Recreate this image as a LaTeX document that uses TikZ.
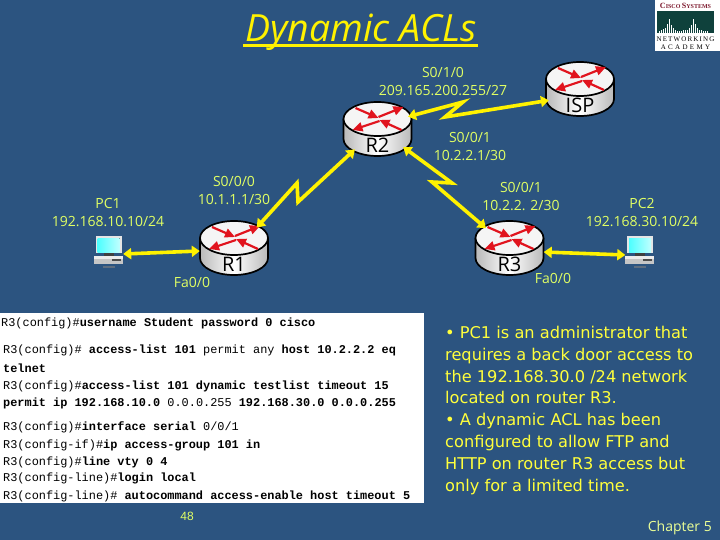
\documentclass[tikz,border=0pt]{standalone}
\usepackage{fontspec}
\setmainfont{Open Sans}
\newfontfamily\cmdfont{Liberation Mono}
\newfontfamily\numfont{Liberation Sans}
\newfontfamily\logofont{Liberation Serif}
\newfontfamily\notefont{DejaVu Sans}
\usetikzlibrary{arrows.meta, positioning, calc, shapes.geometric}

\definecolor{slidebg}{RGB}{44,84,128}
\definecolor{labelcol}{RGB}{225,255,100}
\definecolor{bulletcol}{RGB}{255,255,60}
\definecolor{chaptercol}{RGB}{235,255,150}
\definecolor{routerred}{RGB}{225,20,30}
\definecolor{logored}{RGB}{125,25,45}
\definecolor{logogreen}{RGB}{15,65,60}

% router: name, x, y (centre of top face), label
\newcommand{\router}[4]{
    \fill[left color=gray!55, right color=gray!55, middle color=white] (#2-34,#3) -- (#2-34,#3+20) arc[start angle=180, end angle=360, x radius=34, y radius=-17] -- (#2+34,#3) -- cycle;
    \draw[routerline] (#2-34,#3) -- (#2-34,#3+20) arc[start angle=180, end angle=360, x radius=34, y radius=-17] -- (#2+34,#3);
    \draw[routerline, fill=gray!8] (#2,#3) ellipse[x radius=34, y radius=17];
    \draw[densely dotted, thin] (#2-34,#3) arc[start angle=180, end angle=360, x radius=34, y radius=-17];
    \draw[routerarrow] (#2-22,#3-11) -- (#2+1,#3-1);
    \draw[routerarrow] (#2+1,#3-2) -- (#2+26,#3-12);
    \draw[routerarrow] (#2+2,#3+2) -- (#2-25,#3+11);
    \draw[routerarrow] (#2+24,#3+11) -- (#2+2,#3+1);
    \node[routerbody] (#1) at (#2,#3+10) {};
    \node[routertext] (#1label) at (#2,#3+26) {#4};
}

% pc: name, x, y (top of screen)
\newcommand{\pcicon}[3]{
    \fill[gray!20] (#2-13,#3) rectangle (#2+13,#3+17);
    \fill[left color=cyan!70, right color=cyan!25] (#2-11,#3+2) rectangle (#2+11,#3+16);
    \fill[black!75] (#2-5,#3+17) rectangle (#2+5,#3+20);
    \fill[gray!45] (#2-15,#3+20) rectangle (#2+14,#3+28);
    \fill[gray!15] (#2-15,#3+20) rectangle (#2+14,#3+23);
    \fill[black!70] (#2+3,#3+23) rectangle (#2+12,#3+25);
    \fill[gray!60!slidebg] (#2-6,#3+30) rectangle (#2+6,#3+32);
    \node[pcbody] (#1) at (#2,#3+15) {};
}

\begin{document}
\begin{tikzpicture}[
    x=1pt, y=-1pt,
    routerline/.style={draw=black, line width=1.7pt},
    routerarrow/.style={-{Triangle[length=10pt, width=9pt]}, routerred, line width=2.2pt},
    routerbody/.style={ellipse, minimum width=68pt, minimum height=54pt, inner sep=0pt},
    routertext/.style={font=\fontsize{20}{20}\selectfont, text=black, inner sep=0pt},
    pcbody/.style={minimum width=29pt, minimum height=32pt, inner sep=0pt},
    addrlabel/.style={font=\fontsize{14}{18}\selectfont, text=labelcol, align=center, inner sep=0pt},
    ethlink/.style={{Triangle[length=8pt, width=11pt]}-{Triangle[length=8pt, width=11pt]}, yellow, line width=3.6pt},
    seriallink/.style={{Triangle[length=8pt, width=11pt]}-{Triangle[length=8pt, width=11pt]}, yellow, line width=3.6pt, line join=miter},
    cmdline/.style={font=\cmdfont\fontsize{11.9}{12}\selectfont, text=black, anchor=west, inner sep=0pt},
    logotext/.style={font=\logofont\fontsize{7}{7}\selectfont, inner sep=0pt}
]
\useasboundingbox (0,0) rectangle (720,540);
\fill[slidebg] (0,0) rectangle (720,540);

% --- Title ---
\node[font=\itshape\fontsize{37.5}{37.5}\selectfont, text=yellow, inner sep=0pt] (title) at (361,32) {Dynamic ACLs};
\draw[yellow, line width=2.5pt] (243,45.5) -- (478,45.5);

% --- Logo ---
\fill[white] (655,0) rectangle (720,51);
\fill[logogreen] (657,11) rectangle (714,33);
\node[logotext, text=logored, font=\logofont\bfseries\fontsize{6}{6}\selectfont] (logotop) at (685.5,6) {{\fontsize{8}{8}\selectfont C}ISCO {\fontsize{8}{8}\selectfont S}YSTEMS};
\foreach \x/\h in {659/2,661/3,663/4,665/5,667/9,669/14,671/8,673/5,675/3,677/2,679/2,681/2,683/3,685/3,687/3,689/5,691/8,693/14,695/9,697/5,699/3,701/3,703/2,705/2,707/2} {
    \draw[white, line width=0.6pt] (\x,33) -- (\x,33-\h);
}
\node[logotext] (logomid) at (685.5,39.5) {N\,E\,T\,W\,O\,R\,K\,I\,N\,G};
\node[logotext] (logobot) at (685.5,47) {A\,\,C\,\,A\,\,D\,\,E\,\,M\,\,Y};

% --- Devices ---
\router{R1}{234}{238}{R1}
\router{R2}{377.5}{119}{R2}
\router{ISP}{580}{79}{ISP}
\router{R3}{509.5}{238}{R3}
\pcicon{PC1}{108.5}{236}
\pcicon{PC2}{640}{236}

% --- Links ---
\draw[ethlink] ([yshift=-3pt]PC1.east) -- ([yshift=-3pt]R1.west);
\draw[ethlink] ([yshift=-4pt]R3.east) -- ([yshift=-4pt]PC2.west);
\draw[seriallink] (R1.42) -- (297,183) -- (298,202) -- (R2.222);
\draw[seriallink] (R2.22) -- (463,102) -- (445,117) -- (ISP.200);
\draw[seriallink] (R2.325) -- (452,183) -- (432,182) -- (R3.140);

% --- Addresses ---
\node[addrlabel] (addr1) at (108,213) {PC1\\192.168.10.10/24};
\node[addrlabel] (addr2) at (234,191) {S0/0/0\\10.1.1.1/30};
\node[addrlabel] (addr3) at (192,282) {Fa0/0};
\node[addrlabel] (addr4) at (443,82) {S0/1/0\\209.165.200.255/27};
\node[addrlabel] (addr5) at (470,147) {S0/0/1\\10.2.2.1/30};
\node[addrlabel] (addr6) at (521,197) {S0/0/1\\10.2.2. 2/30};
\node[addrlabel] (addr7) at (642,213) {PC2\\192.168.30.10/24};
\node[addrlabel] (addr8) at (553,278) {Fa0/0};

% --- Commands ---
\fill[white] (0,313) rectangle (424,503);
\node[cmdline] (cmd1) at (1,323) {R3(config)\#\textbf{username Student password 0 cisco}};
\node[cmdline] (cmd2) at (3,350) {R3(config)\# \textbf{access-list 101} permit any \textbf{host 10.2.2.2 eq}};
\node[cmdline] (cmd3) at (3,368) {\textbf{telnet}};
\node[cmdline] (cmd4) at (3,386) {R3(config)\#\textbf{access-list 101 dynamic testlist timeout 15}};
\node[cmdline] (cmd5) at (3,403) {\textbf{permit ip 192.168.10.0} 0.0.0.255 \textbf{192.168.30.0 0.0.0.255}};
\node[cmdline] (cmd6) at (3,427) {R3(config)\#\textbf{interface serial} 0/0/1};
\node[cmdline] (cmd7) at (3,445) {R3(config-if)\#\textbf{ip access-group 101 in}};
\node[cmdline] (cmd8) at (3,462) {R3(config)\#\textbf{line vty 0 4}};
\node[cmdline] (cmd9) at (3,478) {R3(config-line)\#\textbf{login local}};
\node[cmdline] (cmd10) at (3,496) {R3(config-line)\# \textbf{autocommand access-enable host timeout 5}};

% --- Notes ---
\node[font=\numfont\fontsize{12}{12}\selectfont, text=labelcol, inner sep=0pt] (pageno) at (187,516) {48};
\node[font=\notefont\fontsize{16.2}{21.8}\selectfont, text=bulletcol, align=left, anchor=north west, inner sep=0pt] (notes) at (445,326) {%
• PC1 is an administrator that\\
requires a back door access to\\
the 192.168.30.0 /24 network\\
located on router R3.\\
• A dynamic ACL has been\\
configured to allow FTP and\\
HTTP on router R3 access but\\
only for a limited time.};
\node[font=\fontsize{14}{14}\selectfont, text=chaptercol, anchor=east, inner sep=0pt] (chapter) at (712,528) {Chapter 5};

\end{tikzpicture}
\end{document}
